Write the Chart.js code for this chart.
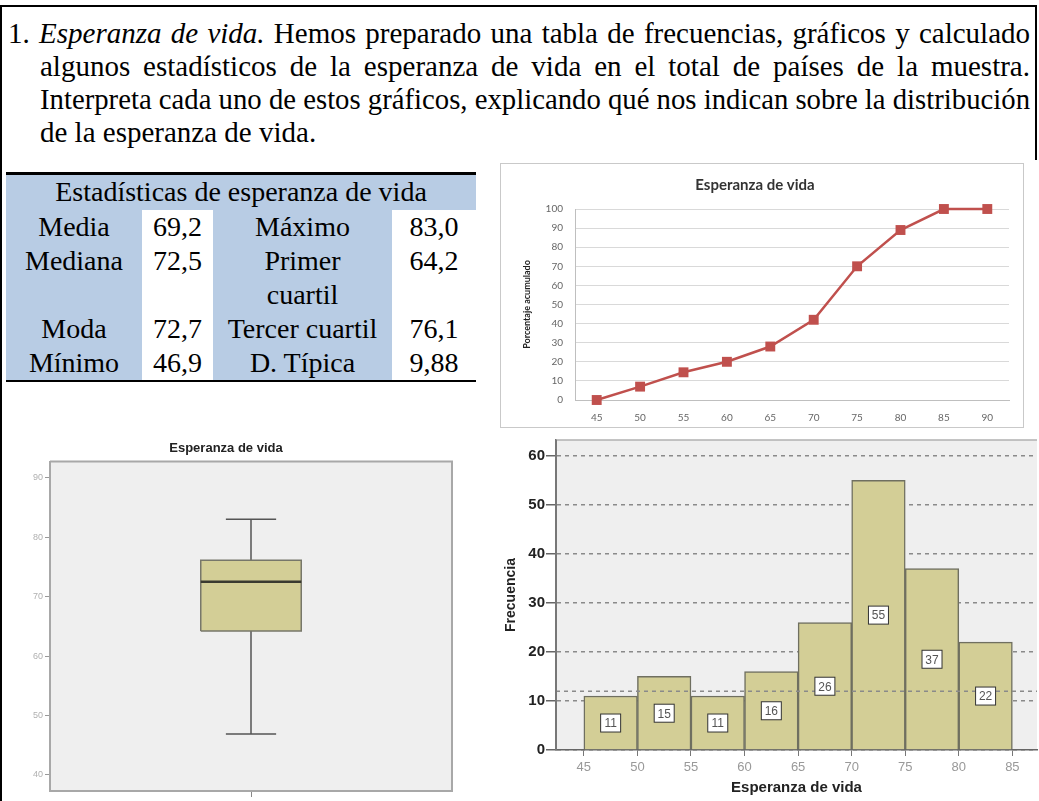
<!DOCTYPE html>
<html>
<head>
<meta charset="utf-8">
<script src="https://cdn.jsdelivr.net/npm/chart.js@4.4.1/dist/chart.umd.min.js"></script>
<style>
body{margin:0;background:#fff;width:1039px;height:801px;overflow:hidden;position:relative;font-family:"Liberation Serif","Times New Roman",serif;color:#000;}
#frameTop{position:absolute;left:0;top:5px;width:1037px;height:0;border-top:2px solid #000;}
#frameLeft{position:absolute;left:0;top:5px;width:0;height:796px;border-left:2px solid #000;}
#frameRight{position:absolute;left:1035px;top:5px;width:0;height:155px;border-left:2px solid #000;}
.tl{position:absolute;font-size:29px;line-height:33px;white-space:nowrap;}
.tl span{display:inline-block;transform-origin:0 0;}
#stats{position:absolute;left:6px;top:172px;border-collapse:collapse;font-size:28px;line-height:34px;width:470px;border-top:3px solid #000;border-bottom:2.5px solid #000;}
#stats td{padding:0;text-align:center;vertical-align:top;white-space:nowrap;}
#stats .b{background:#b8cce4;}
#lineBox{position:absolute;left:500px;top:163px;width:522px;height:263px;border:1.5px solid #c9c9c9;background:#fff;}
#lineChart{position:absolute;left:0;top:0;}
#boxChart{position:absolute;left:0;top:430px;}
#histChart{position:absolute;left:490px;top:430px;}
</style>
</head>
<body>
<div id="frameTop"></div><div id="frameLeft"></div><div id="frameRight"></div>

<div class="tl" style="left:8px;top:17px" data-w="1022"><span>1. <i>Esperanza de vida.</i> Hemos preparado una tabla de frecuencias, gráficos y calculado</span></div>
<div class="tl" style="left:40px;top:50px" data-w="990"><span>algunos estadísticos de la esperanza de vida en el total de países de la muestra.</span></div>
<div class="tl" style="left:40px;top:83px" data-w="990"><span>Interpreta cada uno de estos gráficos, explicando qué nos indican sobre la distribución</span></div>
<div class="tl" style="left:40px;top:116px"><span>de la esperanza de vida.</span></div>

<table id="stats">
  <colgroup><col style="width:136px"><col style="width:71px"><col style="width:179px"><col style="width:84px"></colgroup>
  <tr><td class="b" colspan="4" style="height:35px">Estadísticas de esperanza de vida</td></tr>
  <tbody id="statsBody"></tbody>
</table>

<div id="lineBox"><canvas id="lineChart" width="522" height="263"></canvas></div>
<canvas id="boxChart" width="482" height="371"></canvas>
<canvas id="histChart" width="549" height="371"></canvas>

<script>
// table values
var statNamesLeft = ['Media', 'Mediana', 'Moda', 'Mínimo'];
var statValuesLeft = ['69,2', '72,5', '72,7', '46,9'];
var statNamesRight = ['Máximo', 'Primer<br>cuartil', 'Tercer cuartil', 'D. Típica'];
var statValuesRight = ['83,0', '64,2', '76,1', '9,88'];

// cumulative percentage (ojiva)
var ogiveLabels = ['45', '50', '55', '60', '65', '70', '75', '80', '85', '90'];
var ogiveValues = [0, 7, 14.5, 20, 28, 42, 70, 89, 100, 100];

// box plot: min, q1, median, q3, max
var boxValues = [46.9, 64.2, 72.5, 76.1, 83.0];

// histogram
var binEdges = [45, 50, 55, 60, 65, 70, 75, 80, 85];
var binCounts = [11, 15, 11, 16, 26, 55, 37, 22];
var refLines = [12];

// build table
var body = document.getElementById('statsBody');
for (var i = 0; i < statNamesLeft.length; i++) {
    var tr = document.createElement('tr');
    tr.innerHTML = '<td class="b">' + statNamesLeft[i] + '</td><td>' + statValuesLeft[i] + '</td>' +
        '<td class="b">' + statNamesRight[i] + '</td><td>' + statValuesRight[i] + '</td>';
    body.appendChild(tr);
}

// fit paragraph lines to the justified width
document.querySelectorAll('.tl').forEach(function (el) {
    if (!el.dataset.w) return;
    var target = +el.dataset.w;
    var span = el.firstElementChild;
    var w = span.getBoundingClientRect().width;
    if (w > target) {
        span.style.transform = 'scaleX(' + (target / w) + ')';
    } else {
        var n = (span.textContent.match(/ /g) || []).length;
        span.style.wordSpacing = ((target - w) / n) + 'px';
    }
});

Chart.defaults.font.family = '"Liberation Sans", Arial, sans-serif';
Chart.defaults.animation = false;
Chart.defaults.responsive = false;
Chart.defaults.devicePixelRatio = 1;
Chart.defaults.plugins.legend.display = false;
Chart.defaults.plugins.tooltip.enabled = false;

// --- line chart (porcentaje acumulado) ---
new Chart(document.getElementById('lineChart'), {
    type: 'line',
    data: {
        labels: ogiveLabels,
        datasets: [{
            data: ogiveValues,
            borderColor: '#c0504d',
            backgroundColor: '#c0504d',
            borderWidth: 2.5,
            pointStyle: 'rect',
            pointRadius: 7,
            pointBorderWidth: 0,
            tension: 0,
            clip: false
        }]
    },
    options: {
        layout: { padding: { left: 0, right: 14, top: 0, bottom: 0 } },
        plugins: {
            title: {
                display: true,
                text: 'Esperanza de vida',
                color: '#333',
                font: { family: 'Lato, "Open Sans", sans-serif', size: 15, weight: 'bold' },
                padding: { top: 12, bottom: 15 }
            }
        },
        scales: {
            x: {
                offset: true,
                grid: { display: false, drawTicks: false },
                border: { color: '#bfbfbf' },
                ticks: { color: '#666', font: { family: 'Lato, sans-serif', size: 10 }, padding: 12 },
                afterFit: function (s) { s.height = 27; }
            },
            y: {
                min: 0,
                max: 100,
                grid: { color: '#d9d9d9', drawTicks: false },
                border: { color: '#bfbfbf' },
                ticks: { stepSize: 10, color: '#666', font: { family: 'Lato, sans-serif', size: 10 }, padding: 12 },
                title: {
                    display: true,
                    text: 'Porcentaje acumulado',
                    color: '#222',
                    font: { family: 'Lato, sans-serif', size: 9, weight: 'bold' },
                    padding: { top: 21, bottom: 0 }
                },
                afterFit: function (s) { s.width = 74; }
            }
        }
    }
});

// --- box plot ---
var BOX_HALF = 0.6, CAP_HALF = 0.3;
var bMin = boxValues[0], q1 = boxValues[1], med = boxValues[2], q3 = boxValues[3], bMax = boxValues[4];

var plotBg = {
    id: 'plotBg',
    beforeDraw: function (chart) {
        var a = chart.chartArea, ctx = chart.ctx;
        ctx.save();
        ctx.fillStyle = '#efefef';
        ctx.fillRect(a.left, a.top, a.right - a.left, a.bottom - a.top);
        ctx.restore();
    },
    afterDraw: function (chart) {
        var a = chart.chartArea, ctx = chart.ctx;
        ctx.save();
        ctx.strokeStyle = '#a8a8a8';
        ctx.lineWidth = 2;
        ctx.beginPath();
        ctx.moveTo(a.left, a.top); ctx.lineTo(a.right, a.top); ctx.lineTo(a.right, a.bottom);
        ctx.stroke();
        ctx.restore();
    }
};

var whisker = { borderColor: '#555', borderWidth: 1.5, pointRadius: 0, showLine: true, fill: false, order: 3 };
new Chart(document.getElementById('boxChart'), {
    type: 'scatter',
    data: {
        datasets: [
            {
                data: [{ x: -BOX_HALF, y: med }, { x: BOX_HALF, y: med }],
                showLine: true, pointRadius: 0, borderColor: '#3a3a30', borderWidth: 2.5, order: 1
            },
            {
                data: [{ x: -BOX_HALF, y: q1 }, { x: BOX_HALF, y: q1 }, { x: BOX_HALF, y: q3 }, { x: -BOX_HALF, y: q3 }, { x: -BOX_HALF, y: q1 }],
                showLine: true, pointRadius: 0, fill: 'shape',
                backgroundColor: '#d3ce96', borderColor: '#77776a', borderWidth: 1.5, order: 2
            },
            Object.assign({ data: [{ x: 0, y: q3 }, { x: 0, y: bMax }] }, whisker),
            Object.assign({ data: [{ x: -CAP_HALF, y: bMax }, { x: CAP_HALF, y: bMax }] }, whisker),
            Object.assign({ data: [{ x: 0, y: q1 }, { x: 0, y: bMin }] }, whisker),
            Object.assign({ data: [{ x: -CAP_HALF, y: bMin }, { x: CAP_HALF, y: bMin }] }, whisker)
        ]
    },
    options: {
        layout: { padding: { left: 0, right: 30, top: 0, bottom: 0 } },
        plugins: {
            title: {
                display: true,
                text: 'Esperanza de vida',
                color: '#222',
                font: { size: 13, weight: 'bold' },
                padding: { top: 11, bottom: 5 }
            }
        },
        scales: {
            x: {
                type: 'linear',
                min: -2.4,
                max: 2.4,
                afterBuildTicks: function (s) { s.ticks = [{ value: 0 }]; },
                ticks: { callback: function () { return ''; }, padding: 0 },
                grid: { drawOnChartArea: false, tickLength: 6, color: '#888' },
                border: { color: '#a8a8a8', width: 2 },
                afterFit: function (s) { s.height = 10; }
            },
            y: {
                min: 37.3,
                max: 92.7,
                ticks: { stepSize: 10, includeBounds: false, color: '#b0b0b0', font: { size: 9 }, padding: 2 },
                grid: { drawOnChartArea: false, tickLength: 5, color: '#999' },
                border: { color: '#a8a8a8', width: 2 },
                afterFit: function (s) { s.width = 50; }
            }
        }
    },
    plugins: [plotBg]
});

// --- histogram ---
var binCenters = [];
for (var b = 0; b < binCounts.length; b++) {
    binCenters.push((binEdges[b] + binEdges[b + 1]) / 2);
}

var histExtras = {
    id: 'histExtras',
    beforeDraw: function (chart) {
        var a = chart.chartArea, ctx = chart.ctx;
        ctx.save();
        ctx.fillStyle = '#efefef';
        ctx.fillRect(a.left, a.top, a.right - a.left, a.bottom - a.top);
        ctx.restore();
    },
    afterDraw: function (chart) {
        var a = chart.chartArea, ctx = chart.ctx, y = chart.scales.y;
        ctx.save();
        // reference line
        ctx.strokeStyle = '#8a8a8a';
        ctx.lineWidth = 1.5;
        ctx.setLineDash([4, 4]);
        refLines.forEach(function (v) {
            var py = y.getPixelForValue(v);
            ctx.beginPath(); ctx.moveTo(a.left, py); ctx.lineTo(a.right, py); ctx.stroke();
        });
        ctx.setLineDash([]);
        // frame: top edge and solid left axis
        ctx.strokeStyle = '#b0b0b0';
        ctx.beginPath(); ctx.moveTo(a.left, a.top); ctx.lineTo(a.right, a.top); ctx.stroke();
        ctx.strokeStyle = '#777';
        ctx.lineWidth = 2;
        ctx.beginPath(); ctx.moveTo(a.left, a.top); ctx.lineTo(a.left, a.bottom); ctx.stroke();
        // value labels
        var meta = chart.getDatasetMeta(0);
        ctx.font = '12px "Liberation Sans", Arial, sans-serif';
        ctx.textAlign = 'center';
        ctx.textBaseline = 'middle';
        meta.data.forEach(function (bar, i) {
            var py = y.getPixelForValue(binCounts[i] / 2);
            ctx.fillStyle = '#fff';
            ctx.fillRect(bar.x - 10, py - 9, 20, 18);
            ctx.strokeStyle = '#333';
            ctx.lineWidth = 1;
            ctx.strokeRect(bar.x - 10, py - 9, 20, 18);
            ctx.fillStyle = '#555';
            ctx.fillText(String(binCounts[i]), bar.x, py + 1);
        });
        ctx.restore();
    }
};

new Chart(document.getElementById('histChart'), {
    type: 'bar',
    data: {
        datasets: [{
            data: binCenters.map(function (c, i) { return { x: c, y: binCounts[i] }; }),
            backgroundColor: '#d3ce96',
            borderColor: '#6f6f60',
            borderWidth: 1.5,
            barPercentage: 1,
            categoryPercentage: 1
        }]
    },
    options: {
        layout: { padding: { left: 0, right: 2, top: 3, bottom: 0 } },
        scales: {
            x: {
                type: 'linear',
                offset: false,
                min: 42.4,
                max: 87.3,
                ticks: { stepSize: 5, includeBounds: false, color: '#999', font: { size: 13 }, padding: 4 },
                grid: { drawOnChartArea: false, offset: false, tickLength: 6, color: '#777' },
                border: { color: '#666', width: 1.5 },
                title: {
                    display: true,
                    text: 'Esperanza de vida',
                    color: '#222',
                    font: { size: 15, weight: 'bold' },
                    padding: { top: 0, bottom: 4 }
                },
                afterFit: function (s) { s.height = 51; }
            },
            y: {
                min: 0,
                max: 63.2,
                z: 1,
                ticks: { stepSize: 10, includeBounds: false, color: '#222', font: { size: 15, weight: 'bold' }, padding: 1 },
                grid: { color: '#8a8a8a', lineWidth: 1.5, tickLength: 10, tickColor: '#666', tickBorderDash: [] },
                border: { color: '#777', width: 2, dash: [4, 4] },
                title: {
                    display: true,
                    text: 'Frecuencia',
                    color: '#222',
                    font: { size: 14, weight: 'bold' },
                    padding: { top: 13, bottom: 0 }
                },
                afterFit: function (s) { s.width = 66; }
            }
        }
    },
    plugins: [histExtras]
});
</script>
</body>
</html>
